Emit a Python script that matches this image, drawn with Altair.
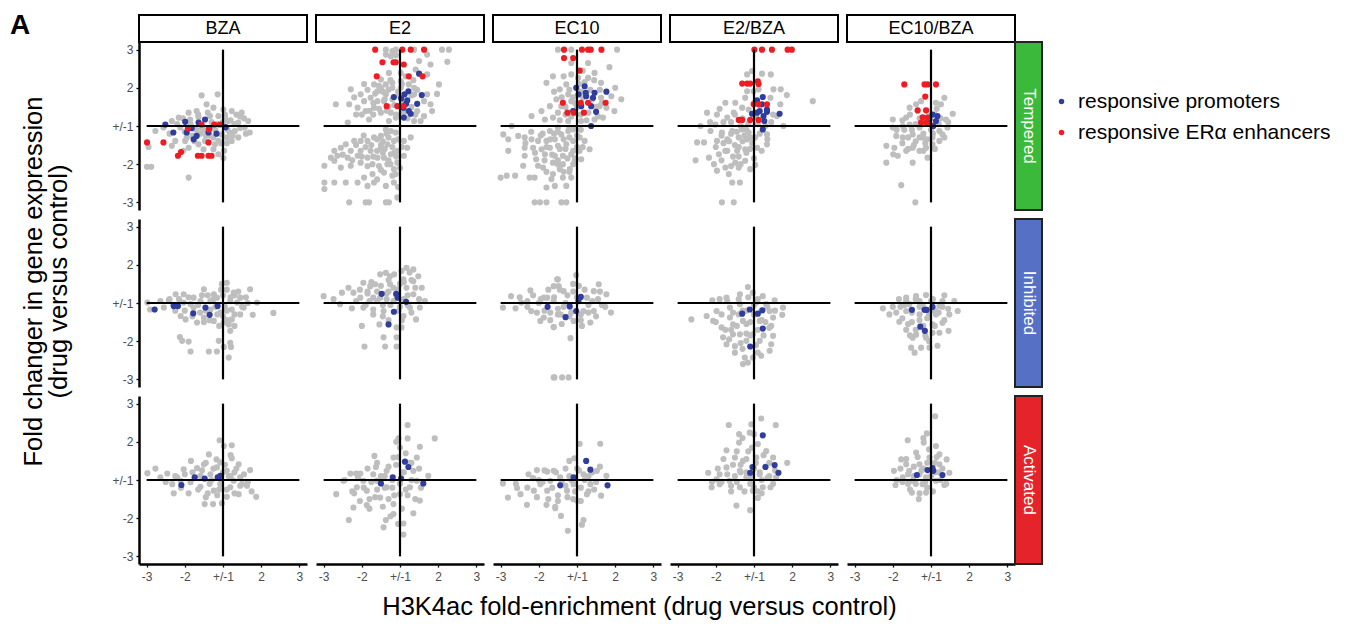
import altair as alt
import pandas as pd

drugs = ["BZA", "E2", "EC10", "E2/BZA", "EC10/BZA"]
groups = ["Tempered", "Inhibited", "Activated"]
group_colors = ["#3ab93a", "#5570c4", "#e4232b"]
kinds = ["other", "responsive promoters", "responsive ERα enhancers"]
kind_colors = ["#bebebe", "#2e3d9e", "#ee1d23"]
tick_values = [-2, -1, 0, 1, 2]
tick_labels = ["-3", "-2", "+/-1", "2", "3"]

# ---------------- Tempered ----------------
gray_T_BZA = [(-0.56,0.80),(-0.14,0.83),(-0.43,0.57),(-0.90,0.35),(-1.16,0.22),(-0.69,0.39),(-0.25,0.48),(0.01,0.43),
    (0.23,0.39),(0.49,0.35),(0.66,0.13),(0.70,-0.17),(0.40,-0.30),(0.23,-0.39),(0.03,-0.65),(-0.12,-0.74),(0.01,-0.84),
    (-0.90,-1.35),(-1.99,-1.07),(-1.88,-1.07),(-1.95,-0.55),(-1.77,-0.13),(-1.56,-0.04),(-1.34,0.13),(-1.34,-0.52),
    (-1.25,-0.39),(-0.99,-0.39),(-0.90,-0.57),(-0.64,-0.48),(-0.21,-0.48),(-0.12,-0.39),(-0.47,-0.39),(0.14,0.13),
    (0.40,0.09),(0.31,-0.13),(0.57,-0.04),(-1.12,-0.04),(-0.86,0.17),(-0.34,0.26),(-0.12,0.26),(0.05,0.22),(-0.64,0.23),
    (-1.04,-0.65),(-0.51,-0.61),(-0.25,-0.61),(-0.03,-0.22),(0.18,-0.17),(-0.50,-0.10),(-0.20,-0.10),(0.10,-0.30),
    (-0.80,-0.25),(-0.30,0.10),(0.30,0.05),(-0.60,-0.20),(0.00,0.10),(-1.40,-0.20),(0.45,0.25),(-0.35,-0.25),
    (-1.2,0.05),(-1.0,-0.15),(-1.05,0.2),(-0.85,0.05),(-0.75,-0.4),(-0.65,0.3),(-0.55,-0.05),(-0.45,-0.25),(-0.4,0.35),
    (-0.25,-0.3),(-0.15,0.05),(-0.05,-0.45),(0.05,0.3),(0.12,-0.1),(0.2,0.15),(0.25,-0.25),(0.35,0.3),(0.45,-0.05),
    (0.55,0.2),(0.6,-0.2),(-0.3,-0.05),(-0.7,-0.1),(-0.95,-0.3),(0.1,-0.45)]
blue_T_BZA = [(-1.51,0.04),(-1.30,-0.17),(-0.99,0.11),(-0.95,-0.17),(-0.82,-0.06),(-0.77,-0.35),(-0.69,-0.26),
    (-0.64,0.09),(-0.47,0.17),(-0.38,-0.17),(-0.17,-0.20),(0.07,-0.03),(-0.36,-0.06)]
red_T_BZA = [(-1.99,-0.43),(-1.56,-0.43),(-1.18,-0.78),(-1.10,-0.68),(-0.66,-0.78),(-0.56,-0.78),(-0.38,-0.78),
    (-0.30,-0.78),(-0.38,-0.43),(-0.56,0.04),(-0.23,0.04),(-0.37,-0.09),(-0.92,-0.06),(-0.08,0.04)]

gray_T_E2 = [(-0.37,2.0),(-0.20,1.96),(-0.11,2.0),(0.37,2.0),(0.71,1.87),(1.10,2.0),(1.28,2.0),(1.24,1.68),(0.80,1.61),
    (0.50,1.70),(-0.24,1.83),(-0.37,1.87),(-0.11,1.85),(-0.29,1.39),(0.02,1.39),(0.41,1.48),(0.71,1.35),(1.02,1.09),
    (0.97,0.84),(0.71,0.83),(0.80,0.57),(0.84,0.39),(0.63,0.26),(0.54,0.13),(0.37,0.13),(-0.50,1.22),(-0.68,1.09),
    (-0.94,1.10),(-1.29,0.96),(-1.03,0.83),(-1.68,0.57),(-1.33,0.57),(-1.11,0.48),(-0.90,0.39),(-0.68,0.48),(-0.50,0.35),
    (-0.81,0.17),(-1.37,0.09),(-0.59,0.91),(-0.37,0.83),(-0.50,1.0),(-0.20,1.13),(0.02,1.17),(0.23,1.09),(0.37,1.0),
    (-0.20,1.0),(-0.77,0.74),(-0.94,0.65),(-0.59,0.65),(-0.42,0.65),(-0.24,0.35),(-0.11,0.22),(-0.29,0.13),(0.37,0.83),
    (0.45,0.39),(0.63,0.65),(-0.37,1.09),(0.02,1.0),(-0.20,0.70),(0.00,0.80),(-0.30,0.50),(0.10,0.60),(-0.10,0.30),
    (0.20,0.20),(-0.45,0.90),(-0.70,0.30),(-1.00,0.30),(0.15,1.30),(0.30,0.50),
    (-0.85,0.95),(-0.7,0.6),(-0.65,0.85),(-0.55,0.45),(-0.55,1.05),(-0.4,0.7),(-0.35,0.4),(-0.3,0.95),(-0.25,1.2),
    (-0.15,0.55),(-0.05,0.9),(0.05,1.1),(0.1,0.35),(0.3,0.8),(0.35,1.2),(0.45,0.95),(-0.8,0.4),(-1.2,0.75),
    (-1.15,0.3),(0.4,0.3),
    (-0.37,-0.09),(-0.24,-0.13),(-0.11,-0.17),(-0.50,-0.26),(-0.68,-0.30),(-0.85,-0.39),(-1.03,-0.39),(-1.20,-0.39),
    (-1.42,-0.48),(-1.55,-0.57),(-1.72,-0.65),(-1.29,-0.65),(-1.03,-0.65),(-0.77,-0.65),(-0.50,-0.57),(-0.33,-0.48),
    (-0.16,-0.39),(0.10,-0.39),(0.28,-0.30),(0.19,-0.57),(-0.07,-0.65),(-0.24,-0.74),(-0.42,-0.83),(-0.59,-0.83),
    (-0.85,-0.83),(-1.11,-0.78),(-1.37,-0.83),(-1.72,-0.91),(-1.98,-1.04),(-1.55,-1.09),(-1.29,-1.04),(-1.03,-0.96),
    (-0.72,-1.0),(-0.33,-1.0),(-0.07,-0.96),(0.10,-0.78),(-0.16,-1.13),(-0.42,-1.22),(-0.72,-1.26),(-0.94,-1.35),
    (-1.11,-1.48),(-1.42,-1.48),(-1.72,-1.48),(-1.98,-1.48),(-1.98,-1.65),(-0.85,-1.57),(-0.68,-1.48),(-0.37,-1.57),
    (-0.16,-1.48),(-0.11,-1.26),(-1.33,-2.0),(-0.90,-2.0),(-0.81,-2.0),(-0.37,-2.0),(-0.29,-2.0),(-0.07,-1.87),
    (-1.81,-0.83),(-1.64,-0.78),(-0.50,-0.50),(-0.30,-0.30),(-0.60,-0.65),(-0.90,-0.55),(-0.20,-0.55),(-0.45,-0.70),
    (-0.10,-0.80),(-0.30,-0.90),(-0.55,-1.05),(-0.20,-1.30),
    (-1.15,-0.5),(-1.0,-0.8),(-0.95,-0.25),(-0.85,-1.05),(-0.75,-0.5),(-0.7,-0.8),(-0.6,-0.35),(-0.5,-1.15),
    (-0.4,-0.6),(-0.35,-0.2),(-0.25,-1.0),(-0.15,-0.7),(-0.05,-0.35),(0.0,-1.1),(0.05,-0.55),(-1.25,-0.9),
    (-0.6,-1.4),(-0.05,-1.6),(-1.5,-0.75),(-0.45,-0.4)]
blue_T_E2 = [(0.50,1.37),(0.57,0.81),(0.22,0.91),(0.12,0.83),(-0.16,0.76),(0.03,0.72),(0.19,0.67),(0.45,0.58),
    (0.09,0.48),(0.23,0.39),(0.28,0.32),(0.10,0.22),(0.16,0.58)]
red_T_E2 = [(-0.65,2.0),(0.06,2.0),(0.28,2.0),(0.63,2.0),(-0.46,1.67),(-0.17,1.67),(-0.11,1.67),(0.10,1.61),
    (-0.61,1.30),(0.23,1.30),(0.59,1.30),(-0.35,0.52),(-0.07,0.52),(0.09,0.52)]

gray_T_EC10 = [(-0.50,2.0),(-0.15,2.0),(1.05,2.0),(-0.15,1.65),(0.29,1.65),(0.85,1.54),(0.46,1.39),(-0.63,1.30),
    (-0.15,1.35),(-0.80,1.13),(-0.45,0.96),(-0.28,1.09),(0.29,1.26),(0.63,1.13),(1.0,1.0),(0.90,0.78),(1.16,0.70),
    (0.98,0.39),(0.68,0.22),(-1.19,0.26),(-0.93,0.39),(-0.71,0.52),(-0.54,0.70),(-0.63,0.22),(-0.84,0.17),(-0.23,0.83),
    (-0.41,0.52),(-0.15,0.65),(0.63,0.74),(0.59,0.52),(-0.23,0.13),(0.11,0.13),(0.46,0.17),(0.77,0.48),(0.03,1.26),
    (0.10,0.90),(-0.10,0.75),(0.20,1.15),(0.30,0.35),(-0.30,0.30),(0.50,0.50),(-0.50,0.35),(0.00,0.50),(0.60,0.95),
    (-0.45,0.15),(-0.4,0.75),(-0.3,0.5),(-0.2,0.95),(-0.15,0.25),(-0.05,0.6),(0.05,1.1),(0.1,0.3),(0.15,0.75),
    (0.25,0.15),(0.35,0.95),(0.4,0.7),(0.55,0.25),(0.65,0.6),(0.45,1.2),(-0.35,1.3),(0.15,1.45),(-0.6,0.9),
    (-1.71,0.0),(-1.93,-0.22),(-1.80,-0.35),(-1.54,-0.26),(-1.37,-0.30),(-1.19,-0.35),(-1.02,-0.39),(-0.80,-0.39),
    (-0.58,-0.35),(-0.41,-0.22),(-0.23,-0.13),(-0.10,-0.09),(-0.50,-0.04),(-0.71,-0.13),(-1.37,-0.57),(-1.15,-0.57),
    (-0.93,-0.61),(-0.71,-0.57),(-0.50,-0.52),(-0.28,-0.48),(-0.10,-0.39),(0.07,-0.30),(0.20,-0.39),(0.33,-0.61),
    (0.07,-0.65),(-0.15,-0.74),(-0.37,-0.78),(-0.58,-0.78),(-0.84,-0.74),(-1.80,-0.65),(-1.37,-0.78),(-1.07,-0.87),
    (-1.41,-1.04),(-1.02,-1.04),(-0.89,-1.09),(-0.63,-0.96),(-0.37,-1.0),(-0.06,-0.91),(0.11,-0.87),(-0.19,-1.13),
    (-0.45,-1.13),(-0.63,-1.26),(-1.11,-1.35),(-1.24,-1.35),(-2.0,-1.35),(-1.84,-1.30),(-1.62,-1.30),(-0.67,-1.39),
    (-0.37,-1.35),(-0.15,-1.35),(-0.80,-1.61),(-0.58,-1.57),(-0.28,-1.57),(-1.11,-2.0),(-0.97,-2.0),(-0.80,-2.0),
    (-0.41,-2.0),(-0.28,-2.0),(-0.60,-0.20),(-0.30,-0.60),(-0.50,-0.90),(-0.20,-0.30),(-0.80,-0.55),(-0.10,-1.00),
    (-0.35,-1.20),(-0.90,-0.20),(0.00,-0.55),
    (-1.35,-0.45),(-1.2,-0.15),(-1.1,-0.7),(-0.95,-0.25),(-0.85,-0.9),(-0.7,-0.35),(-0.65,-0.75),(-0.5,-0.15),
    (-0.45,-0.6),(-0.35,-0.35),(-0.25,-0.85),(-0.2,-0.05),(-0.1,-0.65),(0.0,-0.25),(0.1,-0.1),(0.15,-0.55),
    (-0.5,-1.0),(-0.2,-1.2),(-0.8,-1.2),(-0.05,-0.85)]
blue_T_EC10 = [(-0.02,1.0),(0.20,1.04),(0.46,0.87),(0.77,0.90),(0.23,0.87),(0.24,0.78),(0.04,0.83),(0.42,0.74),
    (0.11,0.52),(0.37,0.52),(-0.10,0.39),(0.50,0.37),(0.37,0.0)]
red_T_EC10 = [(-0.34,2.0),(0.13,2.0),(0.29,2.0),(0.36,2.0),(0.64,2.0),(-0.34,1.78),(-0.10,1.78),(0.07,1.45),
    (-0.37,0.61),(0.10,0.61),(0.29,0.61),(0.75,0.61),(-0.25,0.35),(-0.08,0.35),(0.18,0.35)]

gray_T_E2BZA = [(-0.18,1.35),(-0.05,1.44),(0.21,1.37),(0.44,1.35),(0.51,0.96),(0.70,0.96),(0.86,0.81),(1.54,0.65),
    (0.69,0.57),(0.60,0.26),(0.77,0.0),(-0.75,0.61),(-0.49,0.61),(-0.97,0.30),(-1.23,0.35),(-0.23,0.74),(-0.18,0.91),
    (-0.31,0.48),(-0.53,0.35),(-0.70,0.22),(-1.40,0.0),(-1.01,0.04),(-0.14,0.43),(0.43,0.74),(-0.01,0.91),(0.12,0.96),
    (-1.14,-0.13),(-0.84,-0.17),(-0.57,-0.13),(-0.31,-0.09),(-0.14,-0.17),(-1.49,-0.43),(-1.31,-0.43),(-0.97,-0.39),
    (-0.70,-0.35),(-0.40,-0.30),(-0.18,-0.35),(0.03,-0.30),(0.34,-0.22),(0.34,-0.48),(0.08,-0.57),(-1.18,-0.83),
    (-1.53,-0.90),(-0.92,-0.74),(-0.70,-0.65),(-0.44,-0.65),(-0.23,-0.61),(-1.05,-1.0),(-0.75,-1.09),(-0.49,-0.96),
    (-0.23,-0.91),(-0.10,-1.13),(0.03,-1.02),(-0.97,-1.17),(-0.66,-1.26),(-0.40,-1.09),(-0.57,-1.48),(-0.37,-1.48),
    (-0.84,-2.0),(-0.53,-2.0),(-0.50,-0.50),(-0.20,-0.10),(-0.80,-0.45),(-0.40,-0.80),(-0.10,-0.60),(0.10,0.05),
    (-0.60,0.10),(-0.35,0.00),(-0.60,-0.20),(-0.30,-0.40),(0.00,0.60),(-0.10,-0.30),(0.45,0.10),(-0.85,-0.90),
    (-0.85,-0.25),(-0.8,0.1),(-0.75,-0.65),(-0.65,-0.4),(-0.55,-0.8),(-0.5,0.3),(-0.45,-0.15),(-0.4,-0.55),
    (-0.35,-1.0),(-0.3,0.2),(-0.25,-0.25),(-0.2,-0.7),(-0.15,0.05),(-0.05,-0.45),(0.0,-0.85),(0.05,0.25),
    (0.15,-0.2),(0.2,-0.65),(0.3,0.0),(0.35,-0.35),(-0.6,-1.05),(-1.0,-0.55),(-1.15,0.1),(0.5,0.3),(-0.9,0.45),
    (0.15,0.55)]
blue_T_E2BZA = [(0.23,0.76),(0.08,0.67),(0.21,0.57),(0.34,0.43),(0.15,0.39),(-0.05,0.32),(0.67,0.32),(0.25,0.26),
    (0.27,0.13),(0.23,-0.09),(0.08,0.35),(0.34,0.37)]
red_T_E2BZA = [(0.01,2.0),(0.21,2.0),(0.47,2.0),(0.88,2.0),(0.99,2.0),(-0.31,1.11),(-0.18,1.11),(-0.10,1.11),
    (0.10,1.17),(0.12,1.10),(-0.01,0.57),(0.12,0.57),(0.34,0.57),(-0.40,0.16),(-0.31,0.16),(-0.10,0.16),(0.12,0.16)]

gray_T_EC10BZA = [(0.26,0.57),(0.35,0.74),(0.13,0.61),(0.57,0.32),(0.39,0.17),(0.43,-0.04),(0.30,-0.22),(0.22,-0.39),
    (0.04,-0.48),(-0.13,-0.57),(-0.30,-0.65),(-0.48,-0.57),(-0.65,-0.65),(-0.96,-0.57),(-1.17,-0.52),(-0.99,-0.74),
    (-1.17,-0.96),(-0.87,-0.78),(-0.48,-0.96),(-0.09,-0.83),(-0.78,-1.55),(-0.41,-2.0),(-0.74,0.0),(-1.0,-0.04),
    (-0.65,0.22),(-0.56,0.48),(-0.39,0.57),(-0.26,0.65),(-0.48,-0.22),(-0.22,-0.30),(0.04,-0.30),(-0.74,-0.30),
    (-0.91,-0.26),(-0.30,-0.04),(0.22,-0.13),(-0.56,0.04),(-1.0,0.17),(-0.30,0.20),(0.00,-0.10),(-0.20,-0.20),
    (-0.50,-0.10),(0.10,0.30),(-0.10,0.40),(-0.40,-0.40),(0.20,0.05),(-0.70,-0.10),(-0.15,-0.45),
    (-0.75,-0.45),(-0.75,0.15),(-0.6,-0.3),(-0.55,0.3),(-0.45,-0.5),(-0.4,0.05),(-0.35,0.4),(-0.3,-0.3),
    (-0.2,0.05),(-0.1,-0.35),(-0.05,0.25),(0.05,-0.2),(0.15,0.45),(0.25,0.2),(0.35,-0.3),(0.45,0.1),(-0.9,-0.1),
    (-0.6,-0.6),(0.1,-0.6),(-0.2,-0.65)]
blue_T_EC10BZA = [(0.17,0.26),(0.13,0.13),(0.06,0.0),(-0.04,0.17),(0.04,0.30)]
red_T_EC10BZA = [(-0.70,1.09),(-0.17,1.09),(-0.09,1.09),(0.13,1.09),(-0.15,0.77),(-0.35,0.41),(-0.13,0.41),
    (-0.22,0.23),(-0.09,0.22),(-0.26,0.09),(-0.13,0.09),(-0.04,0.06)]

# ---------------- Inhibited ----------------
gray_I_BZA = [(-1.98,0.01),(-1.91,-0.17),(-1.42,0.07),(-1.24,0.23),(-1.03,0.23),(-0.77,0.14),(-0.50,0.36),(-0.24,0.23),
    (-0.03,0.50),(0.10,0.53),(0.28,0.27),(0.71,0.36),(0.89,0.01),(0.78,-0.31),(1.32,-0.26),(0.19,-0.73),(0.15,-0.56),
    (-1.11,-0.34),(-0.98,-0.43),(-0.68,-0.51),(-1.13,-0.89),(-1.07,-0.99),(-0.90,-1.01),(-0.85,-1.27),(-0.37,-1.27),
    (-0.16,-1.27),(-0.11,-0.99),(0.02,-1.15),(0.21,-1.15),(0.15,-1.43),(0.19,-1.04),(0.37,0.01),(0.54,-0.12),
    (0.45,-0.30),(0.23,-0.43),(0.02,-0.51),(-0.24,-0.47),(-0.50,-0.38),(-0.77,-0.12),(-1.03,0.01),(-1.55,-0.12),
    (-1.64,0.05),(-0.59,0.05),(-0.33,0.05),(-0.16,0.14),(0.19,0.05),(0.45,0.14),(0.23,-0.17),(-0.07,-0.25),
    (-0.33,-0.17),(-0.85,-0.03),(0.00,0.20),(-0.20,-0.10),(0.10,-0.20),(0.30,0.20),(-0.40,0.20),(0.00,-0.35),
    (0.60,0.15),(-0.60,-0.25),(-1.30,-0.05),(0.10,0.35),
    (-1.25,-0.2),(-1.15,0.1),(-1.0,-0.2),(-0.9,0.15),(-0.8,-0.35),(-0.65,-0.05),(-0.55,0.2),(-0.45,-0.2),
    (-0.35,-0.45),(-0.25,0.1),(-0.15,-0.3),(-0.05,0.35),(0.05,-0.1),(0.1,-0.45),(0.2,0.15),(0.3,-0.3),(0.4,0.3),
    (0.5,-0.1),(0.65,0.0),(-0.5,-0.5),(-1.4,0.1),(0.3,-0.6),(-0.1,-0.6)]
blue_I_BZA = [(-1.79,-0.17),(-1.29,-0.08),(-1.18,-0.08),(-0.78,-0.27),(-0.46,-0.12),(-0.35,-0.31),(-0.14,-0.08)]

gray_I_E2 = [(-2.0,0.18),(-1.74,0.10),(-1.52,0.27),(-1.35,0.40),(-1.22,0.27),(-0.96,0.53),(-0.78,0.44),(-0.65,0.49),
    (-0.52,0.75),(-0.37,0.79),(-0.26,0.70),(0.04,0.84),(0.17,0.92),(0.35,0.88),(0.48,0.70),(0.57,0.40),(0.65,0.05),
    (0.52,-0.12),(0.42,-0.43),(0.09,-0.34),(-0.04,-0.21),(-0.09,-0.64),(0.04,-0.64),(-0.43,-0.90),(-0.39,-1.14),
    (-0.93,-1.14),(-1.0,-0.60),(-0.54,-0.56),(-0.09,-0.90),(-0.09,-1.14),(-1.57,-0.03),(-1.26,-0.14),(-0.96,-0.12),
    (-0.70,-0.17),(-0.43,-0.21),(-1.04,0.14),(-0.70,0.14),(-0.35,0.10),(-0.17,0.40),(0.17,0.40),(0.35,0.23),
    (0.26,-0.12),(-0.17,0.05),(-0.52,0.14),(-0.26,0.49),(0.09,0.62),(0.35,0.57),(-0.10,0.20),(0.10,0.10),
    (-0.30,0.30),(0.00,0.50),(-0.60,0.30),(0.20,-0.05),(-0.45,-0.05),(0.30,0.60),(-0.85,0.30),
    (-1.15,0.05),(-1.05,0.35),(-0.9,-0.05),(-0.85,0.25),(-0.75,0.55),(-0.7,-0.3),(-0.6,0.05),(-0.5,0.45),
    (-0.45,-0.35),(-0.35,0.25),(-0.3,0.6),(-0.25,-0.05),(-0.15,0.75),(-0.05,0.35),(0.0,-0.1),(0.1,0.55),(0.2,0.2),
    (0.3,-0.25),(0.4,0.4),(0.5,0.1),(0.25,0.8),(-0.3,-0.45),(-0.8,0.05),(0.05,-0.45)]
blue_I_E2 = [(-0.48,0.24),(-0.10,0.24),(-0.06,0.14),(0.16,0.03),(-0.16,-0.23),(-0.30,-0.56)]

gray_I_EC10 = [(-1.94,-0.12),(-1.73,0.18),(-1.61,-0.14),(-1.46,0.01),(-1.22,0.33),(-1.20,-0.21),(-0.96,-0.47),
    (-0.78,0.14),(-0.61,-0.63),(-0.52,0.62),(-0.61,-1.95),(-0.48,0.44),(-0.02,0.73),(-0.50,0.62),(-0.61,0.44),
    (0.57,0.49),(0.77,0.23),(0.74,-0.10),(0.89,-0.25),(0.35,-0.51),(0.13,-0.60),(-0.61,-0.63),(-0.17,-0.92),
    (-0.59,-1.95),(-0.39,-1.95),(-0.22,-1.95),(0.44,0.31),(0.26,0.14),(0.17,-0.21),(0.44,-0.21),(-0.35,0.31),
    (-0.61,0.05),(-0.43,-0.30),(-0.09,-0.47),(-0.87,0.14),(-0.87,-0.38),(-0.30,0.00),(0.10,-0.30),(-0.10,0.30),
    (0.30,-0.05),(-1.00,0.00),(-0.50,-0.15),(-1.30,0.05),(0.55,0.10),(-0.20,-0.35),(0.05,0.45),(-0.70,-0.25),
    (-1.3,-0.1),(-1.15,0.2),(-1.05,-0.25),(-0.95,0.1),(-0.85,-0.2),(-0.75,0.35),(-0.7,-0.45),(-0.6,0.15),
    (-0.5,-0.3),(-0.45,0.35),(-0.35,-0.1),(-0.25,0.2),(-0.15,-0.25),(-0.1,0.5),(0.0,0.15),(0.1,-0.45),(0.2,0.35),
    (0.3,-0.25),(0.4,0.05),(0.5,-0.35),(0.6,0.3),(0.65,-0.05),(-0.4,-0.55),(-1.5,0.15)]
blue_I_EC10 = [(-0.77,-0.10),(-0.19,-0.09),(-0.02,-0.21),(0.10,0.16),(-0.30,-0.37),(0.04,0.05)]

gray_I_E2BZA = [(-0.16,0.42),(-1.64,-0.43),(-1.24,-0.34),(-1.09,0.07),(-0.90,0.10),(-0.72,0.14),(-0.37,0.23),
    (-0.03,0.27),(0.23,0.18),(0.54,0.07),(0.76,-0.12),(0.74,-0.31),(0.50,-0.38),(0.45,-0.60),(0.50,-0.86),
    (0.45,-1.08),(0.41,-1.25),(0.19,-1.38),(-0.03,-1.43),(-0.24,-1.43),(-0.29,-1.60),(-0.16,-1.56),(-0.72,-1.08),
    (-0.50,-1.13),(-0.81,-0.90),(-0.85,-0.64),(-1.07,-0.47),(-0.98,-0.21),(-0.63,-0.12),(-0.37,-0.03),(0.06,0.01),
    (0.32,-0.03),(0.15,-0.47),(-0.29,-0.47),(-0.55,-0.56),(-0.37,-0.82),(-0.03,-0.82),(0.15,-0.99),(-0.55,-0.82),
    (-0.20,-0.99),(-0.63,-0.38),(0.41,-0.21),(-0.10,-0.50),(0.10,-0.70),(-0.40,-0.30),(0.00,-0.05),(-0.20,-0.80),
    (-0.60,-0.70),(0.30,-0.50),(-0.30,-1.20),(-0.20,-0.20),(0.20,-0.20),
    (-0.85,-0.3),(-0.75,-0.7),(-0.7,0.05),(-0.65,-0.95),(-0.55,-0.25),(-0.45,-0.6),(-0.4,0.1),(-0.35,-1.05),
    (-0.3,-0.2),(-0.2,-0.55),(-0.15,0.15),(-0.1,-0.85),(0.0,-0.3),(0.05,-1.1),(0.1,0.1),(0.2,-0.45),(0.25,-0.85),
    (0.35,-0.1),(0.4,-0.65),(0.55,-0.2),(-0.5,-1.3),(0.1,-1.3),(-1.0,-0.5)]
blue_I_E2BZA = [(-0.31,-0.28),(-0.11,-0.17),(0.10,-0.28),(0.22,-0.19),(0.23,-0.67),(-0.10,-1.14)]

gray_I_EC10BZA = [(-1.26,-0.14),(-1.09,-0.30),(-0.84,0.10),(-0.65,0.14),(-0.39,0.18),(-0.13,0.21),(0.35,0.20),
    (0.61,0.05),(0.70,-0.21),(0.48,-0.30),(0.46,-0.73),(0.17,-1.12),(-0.04,-1.17),(-0.26,-1.17),(-0.43,-1.30),
    (-0.52,-1.17),(-0.48,-0.91),(-0.65,-0.70),(-0.83,-0.49),(-0.91,-0.25),(-0.65,-0.21),(-0.30,-0.30),(0.13,-0.30),
    (0.30,-0.52),(0.04,-0.56),(0.22,-0.08),(-0.30,0.05),(-0.57,-0.03),(0.04,-0.78),(-0.39,-0.83),(-0.13,-0.91),
    (0.22,-0.78),(-0.10,-0.40),(0.10,-0.20),(-0.50,-0.50),(0.30,-0.10),(-0.30,-0.10),(0.00,0.05),(-0.70,-0.05),
    (-0.20,-0.60),
    (-0.8,-0.1),(-0.75,-0.4),(-0.65,0.05),(-0.6,-0.55),(-0.5,-0.25),(-0.4,-0.7),(-0.4,0.1),(-0.3,-0.45),
    (-0.2,-0.1),(-0.15,-0.85),(-0.05,-0.3),(0.05,0.1),(0.1,-0.6),(0.2,-0.25),(0.3,0.05),(0.35,-0.45),(0.45,-0.15),
    (-0.05,-1.0),(-0.55,-0.85),(-1.0,-0.1)]
blue_I_EC10BZA = [(-0.50,-0.18),(-0.17,-0.18),(-0.11,-0.18),(0.04,-0.10),(-0.28,-0.62),(-0.16,-0.73)]

# ---------------- Activated ----------------
gray_A_BZA = [(-1.98,0.18),(-1.77,0.30),(-1.46,0.17),(-1.29,-0.35),(-1.33,-0.11),(-1.11,-0.02),(-1.03,0.28),
    (-0.84,0.50),(-0.68,0.31),(-0.50,0.41),(-0.37,0.67),(-0.17,0.54),(-0.09,1.04),(0.02,0.89),(0.23,0.91),
    (0.23,0.57),(0.41,0.41),(0.71,0.26),(0.87,-0.44),(0.63,-0.15),(0.41,-0.37),(0.10,-0.44),(-0.03,-0.61),
    (-0.26,-0.63),(-0.48,-0.63),(-0.24,-0.28),(-0.59,-0.18),(-0.85,-0.06),(0.28,-0.02),(0.45,0.07),(0.10,0.24),
    (-0.16,0.33),(-0.33,0.15),(-0.59,0.11),(-0.07,-0.11),(0.19,-0.19),(-1.20,0.07),(-1.64,0.07),(-0.07,0.46),
    (0.00,0.20),(-0.30,0.00),(0.15,0.10),(-0.10,-0.25),(0.30,0.20),(-0.80,0.20),(0.50,-0.10),(-0.40,-0.35),
    (-1.25,0.1),(-1.1,-0.2),(-1.0,0.15),(-0.9,-0.35),(-0.75,0.05),(-0.65,-0.25),(-0.55,0.25),(-0.45,-0.45),
    (-0.35,-0.1),(-0.25,0.3),(-0.15,-0.4),(-0.05,0.0),(0.05,0.4),(0.1,-0.25),(0.2,0.1),(0.3,-0.35),(0.35,0.3),
    (0.45,-0.15),(0.55,0.15),(0.65,-0.05),(0.75,-0.3),(-0.45,0.45),(0.2,0.65),(-1.5,-0.05)]
blue_A_BZA = [(-1.09,-0.13),(-0.74,0.07),(-0.48,0.04),(-0.14,0.07),(-0.07,0.11)]

gray_A_E2 = [(-1.67,-0.37),(-1.34,-1.05),(-1.30,0.17),(-1.15,0.17),(-1.04,0.17),(-1.22,-0.72),(-0.87,-0.66),
    (-0.67,0.63),(-0.63,0.34),(-0.43,-1.24),(-0.37,-1.05),(-0.17,-0.89),(-0.04,1.09),(0.20,1.44),(0.20,1.09),
    (0.52,0.87),(0.91,1.09),(0.44,0.59),(0.74,0.11),(0.52,-0.54),(0.35,-0.87),(0.09,-1.14),(0.09,-1.43),
    (-0.17,-0.63),(-0.52,-0.46),(-0.87,-0.28),(-1.13,-0.19),(-1.48,-0.02),(-0.96,-0.02),(-0.61,-0.02),(-0.35,0.24),
    (-0.17,0.59),(0.0,0.85),(0.35,0.24),(0.26,-0.19),(0.0,-0.37),(-0.35,-0.19),(-0.70,0.15),(0.44,-0.02),
    (-0.20,-0.20),(0.10,0.20),(-0.40,0.10),(0.00,-0.10),(-0.60,-0.25),(0.20,-0.40),(-0.10,0.40),(0.15,0.70),
    (-0.30,-0.50),(-0.80,-0.50),(-1.20,-0.35),(0.30,0.45),
    (-1.25,-0.3),(-1.1,0.05),(-1.05,-0.55),(-0.95,-0.2),(-0.85,0.3),(-0.8,-0.75),(-0.75,-0.05),(-0.65,-0.45),
    (-0.6,0.45),(-0.5,0.1),(-0.45,-0.7),(-0.4,-0.2),(-0.3,0.35),(-0.25,-0.95),(-0.2,0.0),(-0.15,-0.4),(-0.05,0.6),
    (0.05,-0.75),(0.05,0.2),(0.15,-0.25),(0.25,0.45),(0.3,0.0),(0.4,-0.5),(0.5,0.3),(0.55,-0.2),(-0.1,1.0),
    (-0.05,-1.15),(-1.45,0.0)]
blue_A_E2 = [(-0.50,-0.09),(-0.19,0.07),(0.03,0.04),(0.13,0.48),(0.22,0.34),(0.61,-0.09)]

gray_A_EC10 = [(-1.94,-0.09),(-1.81,-0.46),(-1.57,-0.21),(-1.48,-0.37),(-1.31,-0.65),(-1.27,0.15),(-1.05,0.26),
    (-0.80,-0.65),(-0.57,-0.74),(-0.70,-0.02),(-0.96,-0.11),(-1.13,-0.28),(0.07,0.95),(0.61,0.95),(-0.07,0.57),
    (-0.78,0.22),(-0.61,0.24),(0.52,0.24),(0.77,0.11),(0.63,-0.41),(0.17,-1.05),(0.13,-1.17),(-0.24,-1.33),
    (-0.42,-0.94),(-0.57,-0.70),(0.0,-0.54),(0.26,-0.37),(-0.26,-0.28),(-0.44,0.07),(0.17,0.15),(0.35,-0.11),
    (-0.09,-0.11),(-0.78,-0.28),(-0.20,0.10),(0.10,-0.20),(-0.50,-0.40),(0.30,0.10),(-0.10,-0.50),(-1.00,0.00),
    (-0.30,-0.15),(0.45,-0.25),(0.00,0.30),
    (-1.3,-0.2),(-1.15,0.05),(-1.05,-0.45),(-0.9,-0.05),(-0.85,0.25),(-0.75,-0.5),(-0.65,-0.2),(-0.55,0.2),
    (-0.5,-0.55),(-0.4,-0.05),(-0.3,0.3),(-0.25,-0.45),(-0.15,0.0),(-0.05,-0.3),(0.05,0.25),(0.1,-0.55),(0.2,0.0),
    (0.3,-0.3),(0.4,0.2),(0.5,-0.05),(0.6,0.35),(-0.2,0.5),(-1.6,-0.1)]
blue_A_EC10 = [(-0.44,-0.14),(-0.09,0.07),(0.24,0.50),(0.35,0.27),(0.80,-0.14)]

gray_A_E2BZA = [(-0.66,1.44),(-0.39,1.20),(-0.11,1.24),(-0.07,1.46),(0.19,1.61),(0.57,1.44),(0.10,0.94),
    (-0.72,0.78),(-0.39,0.98),(-0.50,0.59),(0.87,0.45),(-1.20,0.19),(-1.11,-0.19),(-0.90,-0.11),(-0.46,-0.67),
    (-0.10,-0.79),(0.10,-0.47),(0.43,-0.19),(0.58,0.07),(0.50,0.59),(0.32,0.76),(0.06,0.59),(-0.29,0.50),
    (-0.72,0.33),(-0.90,0.15),(-0.64,-0.02),(-0.37,-0.19),(-0.03,-0.28),(0.23,-0.19),(-0.20,0.07),(0.15,0.15),
    (-0.37,0.24),(-0.98,0.02),(0.00,0.30),(-0.20,0.20),(0.20,0.00),(-0.50,0.10),(-0.10,-0.10),(0.30,0.35),
    (-0.35,0.40),(0.10,-0.30),(-0.60,-0.15),(-0.15,0.75),(0.40,0.10),
    (-0.95,0.3),(-0.85,-0.05),(-0.8,0.55),(-0.7,0.15),(-0.6,-0.3),(-0.55,0.4),(-0.45,0.75),(-0.45,-0.05),
    (-0.35,0.2),(-0.25,-0.3),(-0.2,0.55),(-0.1,0.1),(-0.05,0.85),(0.0,-0.2),(0.05,0.45),(0.15,0.2),(0.2,-0.35),
    (0.25,0.65),(0.35,0.05),(0.4,0.45),(0.5,-0.1),(0.55,0.25),(-0.3,1.1),(0.0,1.2),(-1.1,-0.05)]
blue_A_E2BZA = [(0.23,1.17),(0.30,0.34),(0.54,0.39),(0.64,0.19),(-0.04,0.34),(-0.10,0.19)]

gray_A_EC10BZA = [(0.11,1.67),(-0.11,1.22),(-0.61,1.04),(-0.19,0.98),(0.13,0.89),(-0.78,0.54),(-0.97,0.24),
    (-0.93,-0.13),(-0.50,-0.33),(-0.32,-0.50),(-0.13,-0.33),(0.35,-0.13),(0.48,0.19),(0.41,0.54),(0.22,0.67),
    (-0.39,0.72),(-0.65,0.41),(-0.74,0.07),(-0.48,-0.02),(-0.22,-0.11),(0.13,-0.02),(-0.30,0.41),(-0.04,0.59),
    (0.22,0.41),(-0.57,0.24),(-0.13,0.07),(-0.30,0.15),(0.00,0.10),(-0.20,0.30),(-0.45,0.10),(0.20,0.20),
    (-0.10,-0.20),(-0.60,-0.10),(0.10,0.45),
    (-0.8,0.3),(-0.75,-0.05),(-0.65,0.55),(-0.6,0.15),(-0.55,-0.25),(-0.45,0.35),(-0.4,-0.1),(-0.35,0.6),
    (-0.3,-0.35),(-0.25,0.25),(-0.15,-0.05),(-0.1,0.45),(-0.05,0.8),(0.05,-0.3),(0.1,0.2),(0.15,0.6),(0.25,0.0),
    (0.3,0.3),(0.4,-0.1),(-0.2,1.1),(-0.9,0.0)]
blue_A_EC10BZA = [(-0.37,0.13),(-0.09,0.26),(0.04,0.31),(0.06,0.24),(0.30,0.13)]

panel_data = {
    ("Tempered", "BZA"): (gray_T_BZA, blue_T_BZA, red_T_BZA),
    ("Tempered", "E2"): (gray_T_E2, blue_T_E2, red_T_E2),
    ("Tempered", "EC10"): (gray_T_EC10, blue_T_EC10, red_T_EC10),
    ("Tempered", "E2/BZA"): (gray_T_E2BZA, blue_T_E2BZA, red_T_E2BZA),
    ("Tempered", "EC10/BZA"): (gray_T_EC10BZA, blue_T_EC10BZA, red_T_EC10BZA),
    ("Inhibited", "BZA"): (gray_I_BZA, blue_I_BZA, []),
    ("Inhibited", "E2"): (gray_I_E2, blue_I_E2, []),
    ("Inhibited", "EC10"): (gray_I_EC10, blue_I_EC10, []),
    ("Inhibited", "E2/BZA"): (gray_I_E2BZA, blue_I_E2BZA, []),
    ("Inhibited", "EC10/BZA"): (gray_I_EC10BZA, blue_I_EC10BZA, []),
    ("Activated", "BZA"): (gray_A_BZA, blue_A_BZA, []),
    ("Activated", "E2"): (gray_A_E2, blue_A_E2, []),
    ("Activated", "EC10"): (gray_A_EC10, blue_A_EC10, []),
    ("Activated", "E2/BZA"): (gray_A_E2BZA, blue_A_E2BZA, []),
    ("Activated", "EC10/BZA"): (gray_A_EC10BZA, blue_A_EC10BZA, []),
}

cross_v = pd.DataFrame({"x": [0], "y": [-2], "y2": [2]})
cross_h = pd.DataFrame({"y": [0], "x": [-2], "x2": [2]})

FONT = "Liberation Sans"
W = 168
H = 168
DOM = [-2.2, 2.2]
label_expr = " : ".join(f"datum.value == {v} ? '{l}'" for v, l in zip(tick_values, tick_labels)) + " : ''"

xs = alt.Scale(domain=DOM, nice=False, zero=False)
ys = alt.Scale(domain=DOM, nice=False, zero=False)
color_scale = alt.Scale(domain=kinds, range=kind_colors)
legend = alt.Legend(values=kinds[1:], title=None, orient="none", legendX=912, legendY=76,
                    symbolType="circle", symbolSize=30, symbolStrokeWidth=0, labelFontSize=21,
                    labelFont=FONT, labelColor="black", rowPadding=9, labelOffset=6, labelLimit=400)


def axis_common(**kw):
    return alt.Axis(values=tick_values, labelExpr=label_expr, grid=False, domain=True, domainColor="black",
                    domainWidth=2.5, tickColor="black", tickWidth=1.3, tickSize=3, labelFont=FONT,
                    labelFontSize=12, labelColor="#4d4d4d", titleFont=FONT, titleFontSize=25.5,
                    titleFontWeight="normal", titleColor="black", **kw)


def panel(ri, ci, g, d):
    gray, blue, red = panel_data[(g, d)]
    rows = []
    for k, pts in enumerate([gray, blue, red]):
        for (x, y) in pts:
            rows.append({"x": x, "y": y, "kind": kinds[k], "k": k})
    sub = pd.DataFrame(rows)
    if ri == 2:
        if ci == 2:
            xa = axis_common(title="H3K4ac fold-enrichment (drug versus control)", labelPadding=4,
                             titlePadding=12, titleX=146)
        else:
            xa = axis_common(title=None, labelPadding=4)
    else:
        xa = None
    if ci == 0:
        if ri == 1:
            ya = axis_common(title=["Fold changer in gene expression", "(drug versus control)"],
                             labelPadding=3, titlePadding=40, titleLineHeight=25, titleY=62)
        else:
            ya = axis_common(title=None, labelPadding=3)
    else:
        ya = None
    pts = alt.Chart(sub).mark_circle(size=38, opacity=1).encode(
        x=alt.X("x:Q", scale=xs, axis=xa),
        y=alt.Y("y:Q", scale=ys, axis=ya),
        color=alt.Color("kind:N", scale=color_scale, legend=legend),
        order=alt.Order("k:Q"),
    )
    vr = alt.Chart(cross_v).mark_rule(color="black", strokeWidth=2.2).encode(
        x=alt.X("x:Q", scale=xs, axis=xa), y=alt.Y("y:Q", scale=ys, axis=ya), y2="y2:Q")
    hr = alt.Chart(cross_h).mark_rule(color="black", strokeWidth=2.2).encode(
        y=alt.Y("y:Q", scale=ys, axis=ya), x=alt.X("x:Q", scale=xs, axis=xa), x2="x2:Q")
    return alt.layer(pts, vr, hr).properties(width=W, height=H)


def header(ci, d):
    base = alt.Chart(pd.DataFrame({"label": [d]}))
    rect = base.mark_rect(fill="white", stroke="black", strokeWidth=2).encode(
        x=alt.value(0), x2=alt.value(W), y=alt.value(0), y2=alt.value(27))
    txt = base.mark_text(fontSize=18, font=FONT, color="black", baseline="middle", align="center").encode(
        x=alt.value(W / 2), y=alt.value(14), text="label:N")
    layers = [rect, txt]
    if ci == 0:
        a = base.mark_text(fontSize=28, font=FONT, fontWeight="bold", color="black", align="left",
                           baseline="alphabetic").encode(x=alt.value(-129), y=alt.value(19), text=alt.value("A"))
        layers.append(a)
    return alt.layer(*layers).properties(width=W, height=18)


def strip(ri, g):
    base = alt.Chart(pd.DataFrame({"label": [g]}))
    rect = base.mark_rect(fill=group_colors[ri], stroke="#222222", strokeWidth=2).encode(
        x=alt.value(-9), x2=alt.value(18), y=alt.value(0), y2=alt.value(H))
    txt = base.mark_text(fontSize=17, font=FONT, color="white", angle=90, baseline="middle", align="center").encode(
        x=alt.value(4.5), y=alt.value(H / 2), text="label:N")
    return alt.layer(rect, txt).properties(width=18, height=H)


cells = [header(ci, d) for ci, d in enumerate(drugs)]
cells.append(alt.Chart(pd.DataFrame({"a": [0]})).mark_point(opacity=0).encode(
    x=alt.value(0), y=alt.value(0)).properties(width=18, height=18))
for ri, g in enumerate(groups):
    for ci, d in enumerate(drugs):
        cells.append(panel(ri, ci, g, d))
    cells.append(strip(ri, g))

chart = alt.concat(*cells, columns=6, spacing=9, bounds="flush", align="each").properties(
    padding={"left": 2, "top": 4, "right": 5, "bottom": 0}
).configure(font=FONT).configure_view(strokeWidth=0, stroke="transparent").configure_axis(
    domainColor="black", domainWidth=2.5, tickColor="black", grid=False)

chart.save("out.html", embed_options={"renderer": "svg", "actions": False})
